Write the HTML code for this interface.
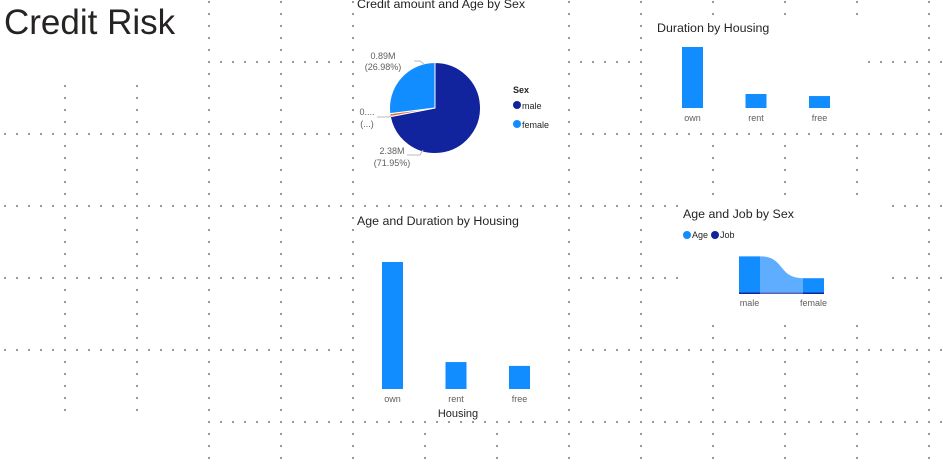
<!DOCTYPE html>
<html><head><meta charset="utf-8"><style>
body{margin:0;width:943px;height:468px;overflow:hidden;background:#fff;font-family:"Liberation Sans",sans-serif}
svg{position:absolute;left:0;top:0}
</style></head><body>
<svg width="943" height="468">
<g id="grid"></g>
<g id="covers" fill="#fff">
<rect x="0" y="0" width="205" height="82"/>
<rect x="0" y="414" width="206" height="54"/>
<rect x="356" y="0" width="211" height="201"/>
<rect x="356" y="209" width="211" height="211"/>
<rect x="649" y="15" width="214" height="116"/>
<rect x="680" y="200" width="206" height="122"/>
</g>
<text x="4" y="34" font-size="35" fill="#252423">Credit Risk</text>

<g>
<text x="357" y="8" font-size="12.4" fill="#252423">Credit amount and Age by Sex</text>
<g id="pie"></g>
<text x="513" y="93" font-size="9" font-weight="bold" fill="#252423">Sex</text>
<circle cx="517" cy="105" r="4" fill="#12239E"/>
<text x="522" y="109" font-size="9" fill="#252423">male</text>
<circle cx="517" cy="124" r="4" fill="#118DFF"/>
<text x="522" y="128" font-size="9" fill="#252423">female</text>
<g font-size="9" fill="#605E5C" text-anchor="middle">
<text x="383" y="59">0.89M</text>
<text x="383" y="70">(26.98%)</text>
<text x="367" y="115">0....</text>
<text x="367" y="127">(...)</text>
<text x="392" y="154">2.38M</text>
<text x="392" y="166">(71.95%)</text>
</g>
<g stroke="#bbb" fill="none" stroke-width="1">
<polyline points="414,61 420,61 424,64"/>
<polyline points="377,117 389,117 393,115"/>
<polyline points="407,155 420,155 423,150"/>
</g>
</g>

<g>
<text x="657" y="32" font-size="12.4" fill="#252423">Duration by Housing</text>
<g id="bars1"></g>
</g>

<g>
<text x="357" y="225" font-size="12.4" fill="#252423">Age and Duration by Housing</text>
<g id="bars2"></g>
<text x="458" y="417" font-size="11" fill="#252423" text-anchor="middle">Housing</text>
</g>

<g>
<text x="683" y="218" font-size="12.4" fill="#252423">Age and Job by Sex</text>
<circle cx="687" cy="235" r="4" fill="#118DFF"/>
<text x="692" y="238" font-size="9" fill="#252423">Age</text>
<circle cx="715" cy="235" r="4" fill="#12239E"/>
<text x="720" y="238" font-size="9" fill="#252423">Job</text>
<g id="ribbon"></g>
</g>
</svg>
<script>
const NS="http://www.w3.org/2000/svg";
function mk(tag,attrs,parent){const e=document.createElementNS(NS,tag);for(const k in attrs)e.setAttribute(k,attrs[k]);parent.appendChild(e);return e;}
// grid
const grid=document.getElementById('grid');
for(let gx=65;gx<943;gx+=72){for(let y=2;y<468;y+=12){mk('rect',{x:gx-1,y:y-1,width:2,height:2,fill:'#999'},grid);}}
for(let gy=62;gy<468;gy+=72){for(let x=5;x<943;x+=12){mk('rect',{x:x-1,y:gy-1,width:2,height:2,fill:'#999'},grid);}}

// pie data
const pieCats=["male","other","female"];
const pieVals=[71.95,1.07,26.98];
const pieColors=["#12239E","#E66C37","#118DFF"];
const pie=document.getElementById('pie');
const cx=435,cy=108,r=45.5;
let tot=pieVals.reduce((a,b)=>a+b,0),ang=0;
pieVals.forEach((v,i)=>{
 const a0=ang/tot*2*Math.PI,a1=(ang+v)/tot*2*Math.PI;ang+=v;
 const x0=cx+r*Math.sin(a0),y0=cy-r*Math.cos(a0),x1=cx+r*Math.sin(a1),y1=cy-r*Math.cos(a1);
 const p=mk('path',{d:`M${cx},${cy}L${x0},${y0}A${r},${r} 0 ${a1-a0>Math.PI?1:0} 1 ${x1},${y1}Z`,fill:pieColors[i],stroke:'#fff','stroke-width':1},pie);
 
 
});

// bar charts
const housing=["own","rent","free"];
const duration=[14800,3400,2900];
const ageDur=[36300,7700,6600];
function bars(id,vals,x0,step,w,base,maxH,maxV,labY){
 const g=document.getElementById(id);
 const ys=v=>v/maxV*maxH;
 vals.forEach((v,i)=>{
  const h=ys(v),x=x0+i*step;
  const b=mk('rect',{x:x,y:base-h,width:w,height:h,fill:'#118DFF'},g);
  
  
  const t=mk('text',{x:x+w/2,y:labY,'font-size':9,fill:'#605E5C','text-anchor':'middle'},g);
  t.textContent=housing[i];
  
  
 });
}
bars('bars1',duration,682,63.5,21,108,61,14800,121);
bars('bars2',ageDur,382,63.5,21,389,127,36300,402);

// ribbon
const sexes=["male","female"];
const age=[24500,9700];
const job=[1300,600];
const rg=document.getElementById('ribbon');
const base=294,sc=38/(age[0]+job[0]);
const xs=[739,803],w=21;
const hA=age.map(v=>v*sc),hJ=job.map(v=>Math.max(1.5,v*sc*0.8));
const rib=mk('path',{d:`M${xs[0]+w},${base-hA[0]-hJ[0]} C${xs[0]+w+25},${base-hA[0]-hJ[0]} ${xs[1]-25},${base-hA[1]-hJ[1]} ${xs[1]},${base-hA[1]-hJ[1]} L${xs[1]},${base} L${xs[0]+w},${base}Z`,fill:'#5EADFF'},rg);


sexes.forEach((s,i)=>{
 const a=mk('rect',{x:xs[i],y:base-hA[i]-hJ[i],width:w,height:hA[i],fill:'#118DFF'},rg);
 
 
 const j=mk('rect',{x:xs[i],y:base-hJ[i],width:w,height:hJ[i],fill:'#12239E'},rg);
 
 
 const t=mk('text',{x:xs[i]+w/2,y:306,'font-size':9,fill:'#605E5C','text-anchor':'middle'},rg);
 t.textContent=s;
 
 
});
mk('rect',{x:xs[0]+w,y:base-1.5,width:xs[1]-xs[0]-w,height:1.5,fill:'#5a62b8'},rg);
</script>
</body></html>
